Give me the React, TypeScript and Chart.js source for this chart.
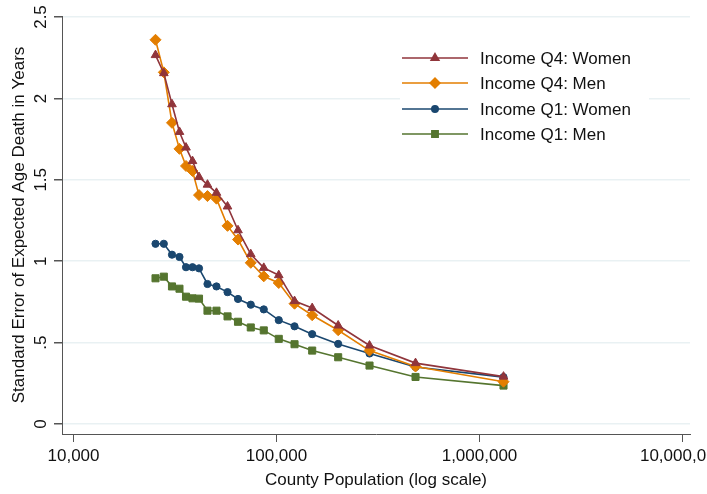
import React, { useEffect, useRef } from 'react';
import { Chart, registerables } from 'chart.js';
import { drawPoint } from 'chart.js/helpers';

Chart.register(...registerables);

// County population bins (x, log scale)
const population = [25350, 27860, 30560, 33270, 35830, 38560, 41520, 45710, 50620, 57380, 64620, 74690, 86560, 102600, 122700, 149900, 201300, 287200, 484000, 1313000];

// Standard error of expected age at death (years)
const q4Women = [2.266, 2.155, 1.964, 1.794, 1.698, 1.615, 1.517, 1.47, 1.42, 1.336, 1.19, 1.043, 0.959, 0.914, 0.755, 0.712, 0.605, 0.482, 0.374, 0.291];
const q4Men = [2.36, 2.16, 1.85, 1.69, 1.585, 1.554, 1.406, 1.4, 1.384, 1.217, 1.133, 0.99, 0.907, 0.866, 0.739, 0.668, 0.576, 0.451, 0.353, 0.26];
const q1Women = [1.107, 1.107, 1.04, 1.026, 0.963, 0.963, 0.956, 0.86, 0.845, 0.81, 0.768, 0.733, 0.704, 0.638, 0.6, 0.552, 0.492, 0.433, 0.35, 0.288];
const q1Men = [0.895, 0.905, 0.845, 0.831, 0.782, 0.772, 0.77, 0.696, 0.696, 0.661, 0.628, 0.593, 0.575, 0.523, 0.49, 0.451, 0.41, 0.359, 0.289, 0.236];

const seriesLabels = ['Income Q4: Women', 'Income Q4: Men', 'Income Q1: Women', 'Income Q1: Men'];
const seriesValues = [q4Women, q4Men, q1Women, q1Men];
const seriesColors = ['#90353B', '#E37E00', '#1A476F', '#55752F'];
const seriesMarkers = ['triangle', 'rectRot', 'circle', 'rect'];
const markerRadius = [5, 5.5, 3.6, 5];

const xTicks = [10000, 100000, 1000000, 10000000];
const yTicks = [0, 0.5, 1, 1.5, 2, 2.5];
const yTickLabels = ['0', '.5', '1', '1.5', '2', '2.5'];

const xTitle = 'County Population (log scale)';
const yTitle = 'Standard Error of Expected Age Death in Years';

const FONT = '"Liberation Sans", Arial, Helvetica, sans-serif';

const legendPlugin = {
  id: 'stataLegend',
  afterDatasetsDraw(chart: any) {
    const ctx = chart.ctx;
    ctx.save();
    ctx.fillStyle = '#ffffff';
    ctx.fillRect(400, 42, 249, 106);
    const rows = [58, 83, 109, 134];
    seriesLabels.forEach((label, i) => {
      const y = rows[i];
      ctx.strokeStyle = seriesColors[i];
      ctx.lineWidth = 1.5;
      ctx.beginPath();
      ctx.moveTo(402, y);
      ctx.lineTo(468, y);
      ctx.stroke();
      ctx.fillStyle = seriesColors[i];
      drawPoint(ctx, { pointStyle: seriesMarkers[i], radius: markerRadius[i] * 0.9, borderWidth: 1, rotation: 0 } as any, 435, y);
      ctx.fillStyle = '#111111';
      ctx.font = `17px ${FONT}`;
      ctx.textBaseline = 'middle';
      ctx.textAlign = 'left';
      ctx.fillText(label, 480, y + 1);
    });
    ctx.restore();
  },
};

export default function App() {
  const canvasRef = useRef<HTMLCanvasElement | null>(null);

  useEffect(() => {
    const canvas = canvasRef.current;
    if (!canvas) return;
    const decade = 203;
    const xMin = Math.pow(10, 4 - 11.5 / decade);
    const xMax = Math.pow(10, 7 + 7.5 / decade);
    const perUnit = (424 - 17) / 2.5;
    const yMin = -10 / perUnit;
    const yMax = 2.5 + 1 / perUnit;

    const chart = new Chart(canvas, {
      type: 'line',
      data: {
        datasets: seriesLabels.map((label, i) => ({
          label,
          data: population.map((p, j) => ({ x: p, y: seriesValues[i][j] })),
          borderColor: seriesColors[i],
          backgroundColor: seriesColors[i],
          pointBackgroundColor: seriesColors[i],
          pointBorderColor: seriesColors[i],
          pointStyle: seriesMarkers[i] as any,
          pointRadius: markerRadius[i],
          pointBorderWidth: 1,
          borderWidth: 1.6,
          tension: 0,
          fill: false,
        })),
      },
      options: {
        responsive: false,
        animation: false,
        devicePixelRatio: 1,
        layout: { padding: { top: 16, right: 17, left: 0, bottom: 0 } },
        plugins: {
          legend: { display: false },
          tooltip: { enabled: false },
        },
        scales: {
          x: {
            type: 'logarithmic',
            min: xMin,
            max: xMax,
            afterBuildTicks: (s: any) => {
              s.ticks = xTicks.map((v) => ({ value: v }));
            },
            afterFit: (s: any) => {
              s.height = 60;
              s.paddingLeft = 0;
              s.paddingRight = 0;
            },
            grid: {
              drawOnChartArea: false,
              drawTicks: true,
              tickLength: 8,
              tickColor: '#555555',
              lineWidth: 1,
            },
            border: { display: true, color: '#555555', width: 1 },
            ticks: {
              autoSkip: false,
              maxRotation: 0,
              minRotation: 0,
              padding: 4,
              color: '#111111',
              font: { family: FONT, size: 17 },
              callback: (v: any) => Number(v).toLocaleString('en-US'),
            },
            title: {
              display: true,
              text: xTitle,
              color: '#111111',
              font: { family: FONT, size: 17 },
              padding: { top: 0, bottom: 3 },
            },
          },
          y: {
            type: 'linear',
            min: yMin,
            max: yMax,
            afterBuildTicks: (s: any) => {
              s.ticks = yTicks.map((v) => ({ value: v }));
            },
            afterFit: (s: any) => {
              s.width = 62;
              s.paddingTop = 0;
              s.paddingBottom = 0;
            },
            grid: {
              color: '#E9F1F3',
              lineWidth: 1.5,
              drawTicks: true,
              tickLength: 8,
              tickColor: '#555555',
            },
            border: { display: true, color: '#555555', width: 1 },
            ticks: {
              autoSkip: false,
              minRotation: 90,
              maxRotation: 90,
              crossAlign: 'center',
              padding: 1,
              color: '#111111',
              font: { family: FONT, size: 17 },
              callback: (v: any) => {
                const idx = yTicks.indexOf(Number(v));
                return idx >= 0 ? yTickLabels[idx] : '';
              },
            },
            title: {
              display: true,
              text: yTitle,
              color: '#111111',
              font: { family: FONT, size: 17 },
              padding: { top: 9, bottom: 0 },
            },
          },
        },
      },
      plugins: [legendPlugin],
    });
    return () => chart.destroy();
  }, []);

  return (
    <div style={{ position: 'absolute', left: 0, top: 0, width: 707, height: 494, background: '#ffffff' }}>
      <canvas ref={canvasRef} width={707} height={494} />
    </div>
  );
}
